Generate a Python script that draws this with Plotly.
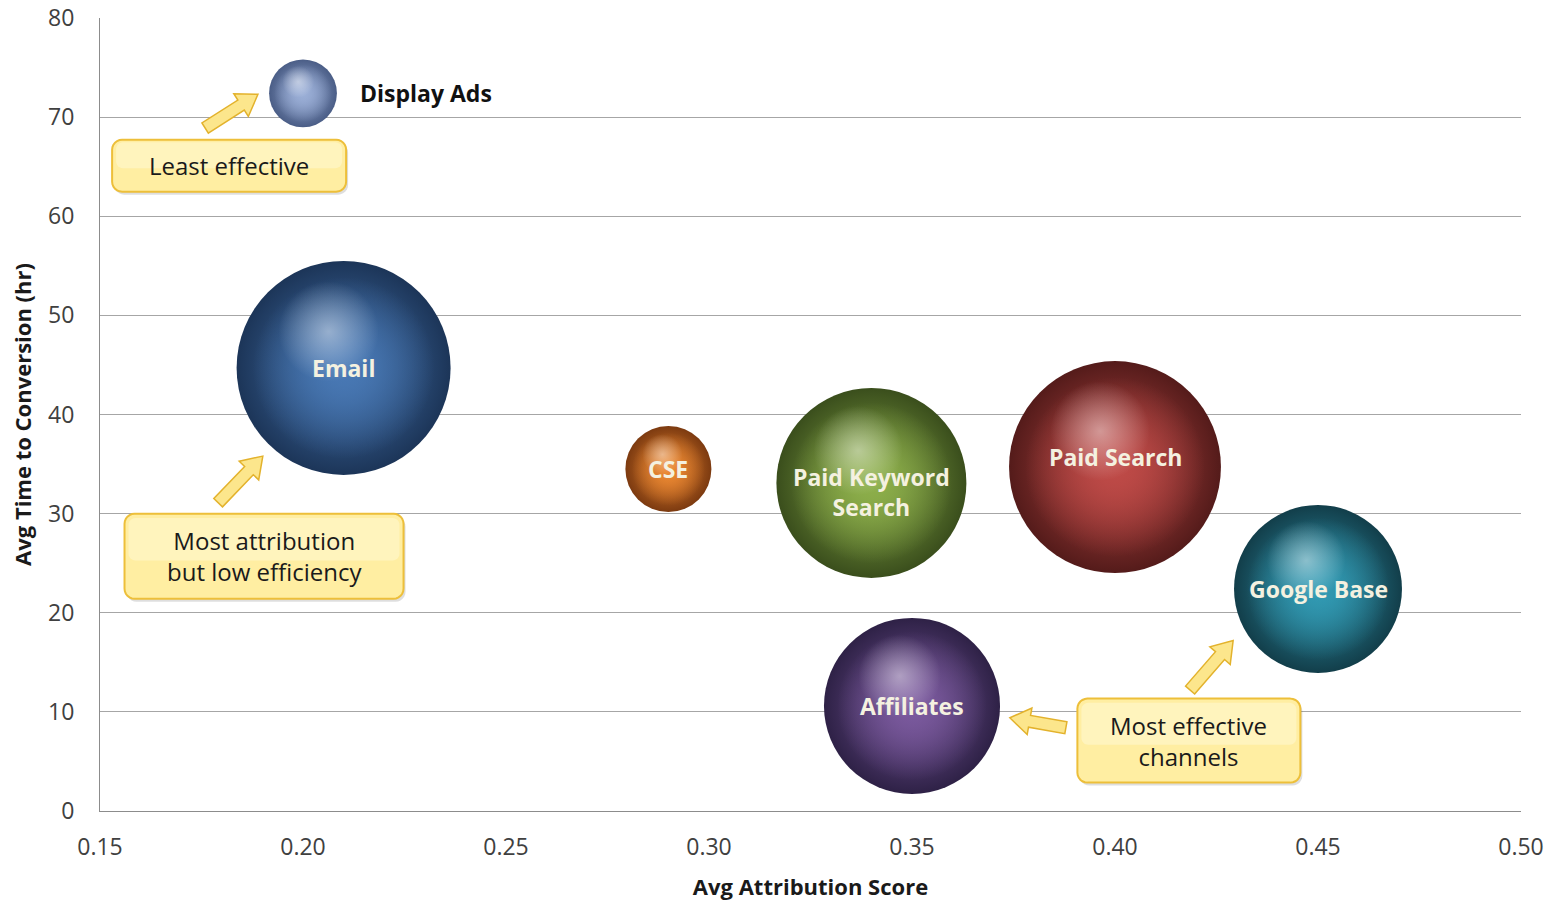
import plotly.graph_objects as go
import math

# ---------------- data ----------------
channels = ["Display Ads", "Email", "CSE", "Paid Keyword Search", "Paid Search", "Google Base", "Affiliates"]
labels = ["Display Ads", "Email", "CSE", "Paid Keyword<br>Search", "Paid Search", "Google Base", "Affiliates"]
attribution = [0.200, 0.210, 0.290, 0.340, 0.400, 0.450, 0.350]
time_to_conv = [72.4, 44.7, 34.5, 33.1, 34.7, 22.4, 10.6]
bubble_value = [4.6, 45.8, 7.4, 36.1, 44.9, 28.2, 31.0]

x_ticks = [0.15, 0.20, 0.25, 0.30, 0.35, 0.40, 0.45, 0.50]
y_ticks = [0, 10, 20, 30, 40, 50, 60, 70, 80]

callout_texts = ["Least effective", "Most attribution<br>but low efficiency", "Most effective<br>channels"]
callout_x = [0.1818, 0.1904, 0.4182]
callout_y = [65.1, 25.7, 7.1]

arrow_tail_x = [0.1759, 0.1791, 0.4185, 0.3879]
arrow_tail_y = [68.9, 31.1, 12.2, 8.4]
arrow_head_x = [0.1889, 0.1901, 0.4291, 0.3741]
arrow_head_y = [72.3, 35.8, 17.2, 9.4]

# ---------------- styles / geometry ----------------
W, H = 1558, 902
ML, MR, MT, MB = 100, 37, 18, 91
XR = [0.15, 0.50]
YR = [0, 80]
PW, PH = W - ML - MR, H - MT - MB
kx = PW / (XR[1] - XR[0])   # px per x unit
ky = PH / (YR[1] - YR[0])   # px per y unit

base_colors = ["#9AAED6", "#4878B4", "#EA8731", "#8CAE4A", "#BE4A47", "#3199B2", "#7A599D"]
edge_colors = ["#4A5D86", "#1C3558", "#7C3A10", "#3A4E1C", "#541B1A", "#123E4A", "#2E2146"]
label_colors = ["#111111"] + ["#F4F1E0"] * 6


def rgba(hexc, a):
    h = hexc.lstrip("#")
    return f"rgba({int(h[0:2], 16)},{int(h[2:4], 16)},{int(h[4:6], 16)},{a})"


FONT = "Open Sans"
MAX_D = 214
sizeref = 2 * max(bubble_value) / MAX_D ** 2
diam = [2 * math.sqrt(v / (2 * sizeref)) for v in bubble_value]

fig = go.Figure()

# main spheres: base colour in the centre darkening to the rim
fig.add_trace(go.Scatter(
    x=attribution, y=time_to_conv, mode="markers",
    marker=dict(size=bubble_value, sizemode="area", sizeref=sizeref, opacity=1,
                color=edge_colors,
                gradient=dict(type="radial", color=base_colors),
                line=dict(width=0)),
    hovertext=channels, hoverinfo="text", showlegend=False,
))
# flatten inner region to base colour
fig.add_trace(go.Scatter(
    x=attribution, y=time_to_conv, mode="markers",
    marker=dict(size=[v * 0.72 for v in bubble_value], sizemode="area", sizeref=sizeref, opacity=1,
                color=[rgba(c, 0) for c in base_colors],
                gradient=dict(type="radial", color=base_colors),
                line=dict(width=0)),
    hoverinfo="skip", showlegend=False,
))
# specular highlight, up-left of centre
hx = [x - 0.07 * d / kx for x, d in zip(attribution, diam)]
hy = [y + 0.17 * d / ky for y, d in zip(time_to_conv, diam)]
fig.add_trace(go.Scatter(
    x=hx, y=hy, mode="markers",
    marker=dict(size=[v * 0.22 for v in bubble_value], sizemode="area", sizeref=sizeref, opacity=1,
                color="rgba(255,255,255,0)",
                gradient=dict(type="radial", color="rgba(255,255,255,0.45)"),
                line=dict(width=0)),
    hoverinfo="skip", showlegend=False,
))

annotations = []
for i, lab in enumerate(labels):
    if i == 0:
        annotations.append(dict(x=attribution[i], y=time_to_conv[i], xref="x", yref="y",
                                text="<b>" + lab + "</b>", showarrow=False,
                                xanchor="left", xshift=diam[i] / 2 + 21,
                                font=dict(family=FONT, size=23, color=label_colors[i])))
    else:
        ys = 10 if channels[i] == "Paid Search" else (-9 if "Keyword" in channels[i] else 0)
        annotations.append(dict(x=attribution[i], y=time_to_conv[i], xref="x", yref="y",
                                text="<b>" + lab + "</b>", showarrow=False, yshift=ys,
                                font=dict(family=FONT, size=23, color=label_colors[i])))

shapes = []


def to_px(x, y):
    return ML + (x - XR[0]) * kx, MT + (YR[1] - y) * ky


def to_data(px, py):
    return XR[0] + (px - ML) / kx, YR[1] - (py - MT) / ky


def path_from_px(pts, closed=True):
    s = ""
    for j, (px, py) in enumerate(pts):
        x, y = to_data(px, py)
        s += ("M" if j == 0 else "L") + f"{x:.6f},{y:.6f} "
    return s + ("Z" if closed else "")


# block arrows
SW, HW, HL = 12, 27, 20
for tx, ty, hx_, hy_ in zip(arrow_tail_x, arrow_tail_y, arrow_head_x, arrow_head_y):
    tpx, tpy = to_px(tx, ty)
    hpx, hpy = to_px(hx_, hy_)
    L = math.hypot(hpx - tpx, hpy - tpy)
    ux, uy = (hpx - tpx) / L, (hpy - tpy) / L
    nx, ny = -uy, ux
    bx, by = hpx - ux * HL, hpy - uy * HL
    pts = [(tpx + nx * SW / 2, tpy + ny * SW / 2), (bx + nx * SW / 2, by + ny * SW / 2),
           (bx + nx * HW / 2, by + ny * HW / 2), (hpx, hpy),
           (bx - nx * HW / 2, by - ny * HW / 2), (bx - nx * SW / 2, by - ny * SW / 2),
           (tpx - nx * SW / 2, tpy - ny * SW / 2)]
    shapes.append(dict(type="path", xref="x", yref="y", path=path_from_px(pts),
                       fillcolor="#FCE68C", line=dict(color="#E3B22C", width=1.5), layer="above"))

# rounded callout boxes
box_w = [234, 279, 223]
box_h = [52, 85, 84]
R = 10


def rounded(cx_px, cy_px, w, h, r):
    x0, x1, y0, y1 = cx_px - w / 2, cx_px + w / 2, cy_px - h / 2, cy_px + h / 2
    pts = []
    for (ccx, ccy, a0) in [(x1 - r, y0 + r, -90), (x1 - r, y1 - r, 0), (x0 + r, y1 - r, 90), (x0 + r, y0 + r, 180)]:
        for k in range(7):
            a = math.radians(a0 + 15 * k)
            pts.append((ccx + r * math.cos(a), ccy + r * math.sin(a)))
    return pts


for t, cx, cy, bw, bh in zip(callout_texts, callout_x, callout_y, box_w, box_h):
    cpx, cpy = to_px(cx, cy)
    shapes.append(dict(type="path", xref="x", yref="y",
                       path=path_from_px(rounded(cpx + 2, cpy + 3, bw, bh, R)),
                       fillcolor="rgba(0,0,0,0.13)", line=dict(width=0), layer="above"))
    shapes.append(dict(type="path", xref="x", yref="y",
                       path=path_from_px(rounded(cpx, cpy, bw, bh, R)),
                       fillcolor="#FFEEA2", line=dict(color="#EDBF3A", width=2), layer="above"))
    shapes.append(dict(type="path", xref="x", yref="y",
                       path=path_from_px(rounded(cpx, cpy - bh * 0.2, bw - 8, bh * 0.5, R - 3)),
                       fillcolor="rgba(255,255,240,0.35)", line=dict(width=0), layer="above"))
    annotations.append(dict(x=cx, y=cy, xref="x", yref="y", text=t, showarrow=False,
                            align="center", font=dict(family=FONT, size=24, color="#1A1A1A")))

fig.update_layout(
    width=W, height=H,
    margin=dict(l=ML, r=MR, t=MT, b=MB),
    paper_bgcolor="white", plot_bgcolor="white",
    annotations=annotations, shapes=shapes,
    font=dict(family=FONT, color="#404040"),
    xaxis=dict(range=XR, tickvals=x_ticks, tickformat=".2f", automargin=False,
               showgrid=False, zeroline=False, showline=True, linecolor="#8C8C8C", linewidth=1,
               ticks="", ticklabelstandoff=15,
               tickfont=dict(family=FONT, size=23, color="#404040"),
               title=dict(text="<b>Avg Attribution Score</b>", standoff=19,
                          font=dict(family=FONT, size=22, color="#1A1A1A"))),
    yaxis=dict(range=YR, tickvals=y_ticks, automargin=False,
               showgrid=True, gridcolor="#A6A6A6", gridwidth=1,
               zeroline=False, showline=True, linecolor="#8C8C8C", linewidth=1,
               ticks="", ticklabelstandoff=20,
               tickfont=dict(family=FONT, size=23, color="#404040"),
               title=dict(text="<b>Avg Time to Conversion (hr)</b>", standoff=10,
                          font=dict(family=FONT, size=22, color="#1A1A1A"))),
)

fig.write_html("out.html")
